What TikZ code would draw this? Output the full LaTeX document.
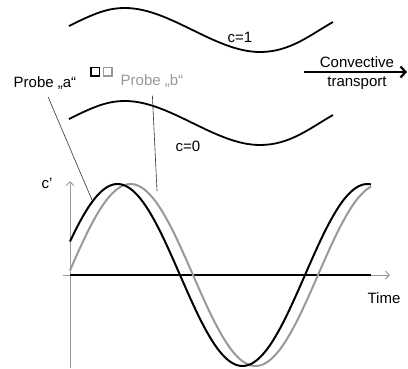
\documentclass[tikz,border=0pt]{standalone}
\usepackage{fontspec}
\setmainfont{Liberation Sans}
\usetikzlibrary{arrows.meta}
\definecolor{cvtGray}{HTML}{999999}
\definecolor{cvtLead}{HTML}{333333}
\tikzset{
  cvt front/.style={draw=black, line width=1.8pt},
  cvt signal a/.style={draw=black, line width=2pt},
  cvt signal b/.style={draw=cvtGray, line width=2pt},
  cvt axis/.style={draw=cvtGray, line width=0.9pt, -{Straight Barb[length=4pt, width=8pt]}},
  cvt leader/.style={draw=cvtLead, line width=0.6pt},
  cvt label/.style={font=\fontsize{15}{17}\selectfont, inner sep=0pt},
  cvt probe/.style={draw, line width=1.5pt, minimum size=8.5pt, inner sep=0pt},
}
\begin{document}
\begin{tikzpicture}[x=1pt, y=-1pt]
  \useasboundingbox (0,0) rectangle (408,368);

  % Upper and lower fronts of the transported layer
  \draw[cvt front] (69,26) .. controls (95,13) and (108,8) .. (125,8)
    .. controls (170,8) and (215,52) .. (260,52)
    .. controls (290,52) and (310,35) .. (333,22);
  \draw[cvt front, shift={(0,93)}] (69,26) .. controls (95,13) and (108,8) .. (125,8)
    .. controls (170,8) and (215,52) .. (260,52)
    .. controls (290,52) and (310,35) .. (333,22);
  \node[cvt label] (cOne) at (240,37) {c=1};
  \node[cvt label] (cZero) at (188,146) {c=0};

  % Flow direction
  \coordinate (flowS) at (304,72);
  \coordinate (flowE) at (407,72);
  \draw[line width=2.2pt, -{Straight Barb[length=5pt, width=11pt]}] (flowS) -- (flowE);
  \node[cvt label] (conv) at (357,62) {Convective};
  \node[cvt label] (trans) at (357,83) {transport};

  % The two probes
  \node[cvt probe, draw=black] (sqA) at (95,71.5) {};
  \node[cvt probe, draw=cvtGray] (sqB) at (107.5,71.5) {};
  \node[cvt label] (probeA) at (45,83) {Probe „a“};
  \node[cvt label, text=cvtGray] (probeB) at (152,81) {Probe „b“};

  % Axes
  \draw[cvt axis] (70,368) -- (70,181);
  \draw[cvt axis] (63,275) -- (390,275);
  \draw[line width=1.8pt] (70,275) -- (371,275);
  \node[cvt label] (yLab) at (47,183) {c’};
  \node[cvt label] (xLab) at (384,298) {Time};

  % Signals of both probes
  \draw[cvt signal b] plot[domain=70:371, samples=120] (\x, {275-91*sin(2*pi*(\x-68)/250 r)});
  \draw[cvt signal a] plot[domain=70:371, samples=120] (\x, {275-91*sin(2*pi*(\x-55)/250 r)});

  % Leaders from labels to signals
  \coordinate (tipA) at (92,200);
  \coordinate (tipB) at (157,191);
  \draw[cvt leader, shorten <=8pt] (probeA.south) -- (tipA);
  \draw[cvt leader, shorten <=8pt] (probeB.south) -- (tipB);
\end{tikzpicture}
\end{document}
